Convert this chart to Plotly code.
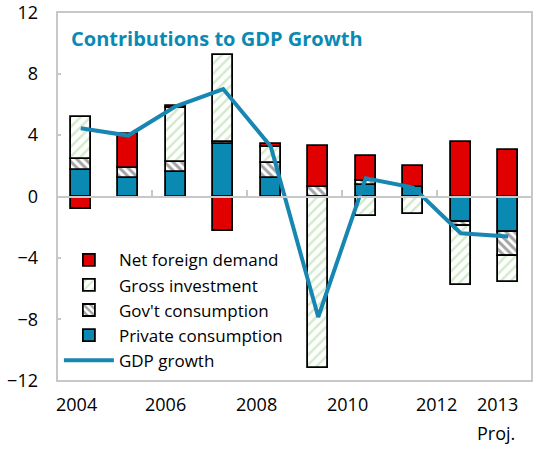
import plotly.graph_objects as go

# Contributions to real GDP growth, percentage points
years = [2004, 2005, 2006, 2007, 2008, 2009, 2010, 2011, 2012, 2013]
private_consumption = [1.75, 1.21, 1.60, 3.40, 1.21, 0.0, 0.76, 0.62, -1.68, -2.33]
govt_consumption = [0.67, 0.67, 0.65, 0.12, 0.99, 0.63, 0.28, 0.0, -0.22, -1.53]
gross_investment = [2.76, 0.0, 3.49, 5.70, 1.02, -11.20, -1.29, -1.16, -3.84, -1.73]
net_foreign_demand = [-0.80, 2.16, 0.15, -2.22, 0.18, 2.65, 1.57, 1.38, 3.52, 3.04]
gdp_growth = [4.45, 3.97, 5.87, 7.00, 3.26, -7.85, 1.18, 0.58, -2.39, -2.61]

y_ticks = [-12, -8, -4, 0, 4, 8, 12]
year_labels = ["2004", "2006", "2008", "2010", "2012", "2013"]
year_label_x = [0.042, 0.229, 0.421, 0.611, 0.798, 0.928]

TEAL = "#0a8ab3"
RED = "#e00000"
GRID = "#c8c8c8"
FONT = "Open Sans"
BAR_W = 0.42
outline = dict(color="black", width=1.8)

fig = go.Figure()

fig.add_trace(go.Bar(
    x=years, y=private_consumption, name="Private consumption", width=BAR_W,
    marker=dict(color=TEAL, line=outline), legendrank=4,
))
fig.add_trace(go.Bar(
    x=years, y=govt_consumption, name="Gov't consumption", width=BAR_W,
    marker=dict(color="white", line=outline,
                pattern=dict(shape="\\", fgcolor="#4a4a4a", bgcolor="white",
                             size=6, solidity=0.5)),
    legendrank=3,
))
fig.add_trace(go.Bar(
    x=years, y=gross_investment, name="Gross investment", width=BAR_W,
    marker=dict(color="white", line=outline,
                pattern=dict(shape="/", fgcolor="#a3d393", bgcolor="white",
                             size=7, solidity=0.33)),
    legendrank=2,
))
fig.add_trace(go.Bar(
    x=years, y=net_foreign_demand, name="Net foreign demand", width=BAR_W,
    marker=dict(color=RED, line=outline), legendrank=1,
))
fig.add_trace(go.Scatter(
    x=years, y=gdp_growth, name="GDP growth", mode="lines",
    line=dict(color="#1787b2", width=4), legendrank=5,
))

# Year labels under the plot area
for text, px in zip(year_labels, year_label_x):
    fig.add_annotation(x=px, y=-0.062, xref="paper", yref="paper", text=text,
                       showarrow=False, xanchor="center", yanchor="middle",
                       font=dict(family=FONT, size=18, color="black"))
fig.add_annotation(x=year_label_x[-1] - 0.004, y=-0.14, xref="paper", yref="paper",
                   text="Proj.", showarrow=False, xanchor="center", yanchor="middle",
                   font=dict(family=FONT, size=18, color="black"))

# Chart title inside the plot area
fig.add_annotation(x=0.026, y=0.928, xref="paper", yref="paper",
                   text="<b>Contributions to GDP Growth</b>", showarrow=False,
                   xanchor="left", yanchor="middle",
                   font=dict(family=FONT, size=20, color=TEAL))

# Frame around the plot area
fig.add_shape(type="rect", xref="paper", yref="paper", x0=0, x1=1, y0=0, y1=1,
              line=dict(color=GRID, width=2), layer="above")

fig.update_layout(
    width=551, height=451,
    margin=dict(l=57, r=19, t=12, b=70),
    paper_bgcolor="white", plot_bgcolor="white",
    barmode="relative", bargap=0,
    font=dict(family=FONT, size=18, color="black"),
    showlegend=True,
    legend=dict(x=0.004, y=0.376, xanchor="left", yanchor="top",
                bgcolor="rgba(255,255,255,0)", font=dict(family=FONT, size=17),
                tracegroupgap=0, itemwidth=50),
    xaxis=dict(range=[2003.5, 2013.5], anchor="free", position=0.5,
               showline=True, linecolor=GRID, linewidth=2,
               tickvals=[2005.5, 2007.5, 2009.5, 2011.5], ticks="inside",
               ticklen=6, tickcolor=GRID, tickwidth=2, showticklabels=False,
               showgrid=False, zeroline=False, automargin=False),
    yaxis=dict(range=[-12.02, 12.02], tickvals=y_ticks, ticks="inside", ticklen=4,
               tickcolor=GRID, tickwidth=2, showgrid=False, zeroline=False,
               showline=False, tickfont=dict(family=FONT, size=18),
               ticklabelstandoff=18, ticklabeloverflow="allow",
               automargin=False),
)

fig.write_html("out.html")
